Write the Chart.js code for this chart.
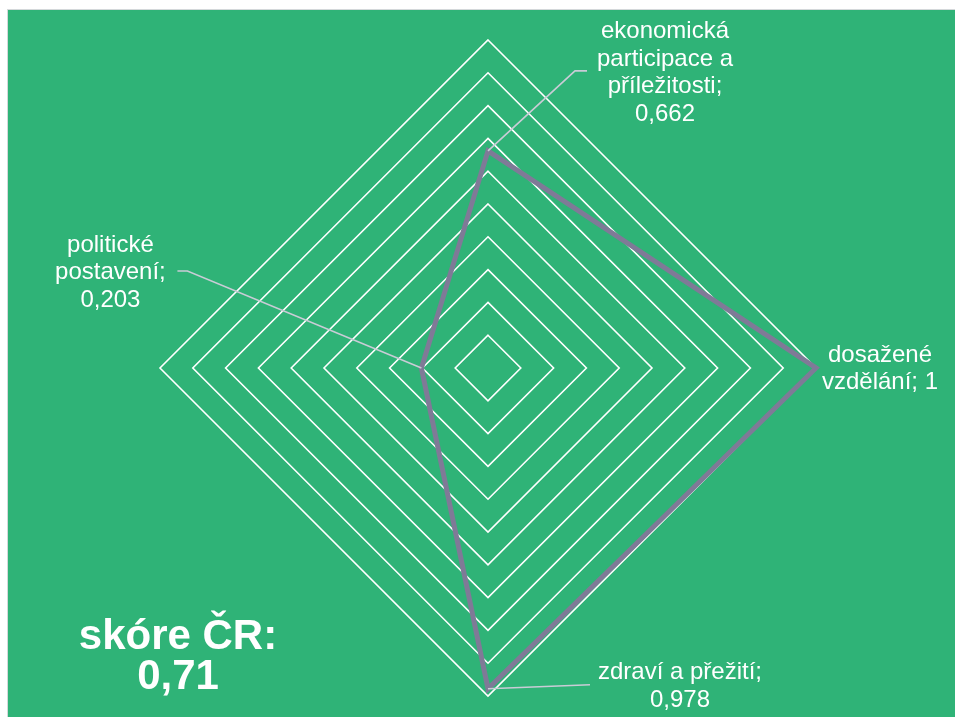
<!DOCTYPE html>
<html>
<head>
<meta charset="utf-8">
<script src="https://cdn.jsdelivr.net/npm/chart.js@4"></script>
<style>
    html, body { margin: 0; padding: 0; background: #ffffff; }
    #frame {
        position: absolute; left: 7px; top: 9px; width: 948px; height: 708px;
        background: #2fb377; border-left: 1px solid #d4d8da; border-top: 1px solid #d4d8da;
    }
    #score {
        position: absolute; left: 40px; top: 605px; width: 260px; text-align: center;
        font-family: "Liberation Sans", Arial, sans-serif; font-weight: bold;
        font-size: 42px; line-height: 40px; color: #ffffff;
    }
</style>
</head>
<body>
<div id="frame">
    <canvas id="gap-chart"></canvas>
    <div id="score">skóre ČR:<br>0,71</div>
</div>
<script>
// ============================================================================
// DATA
// ============================================================================

const categories = ['ekonomická participace a příležitosti', 'dosažené vzdělání', 'zdraví a přežití', 'politické postavení'];
const scores = [0.662, 1, 0.978, 0.203];
const labelLines = [
    ['ekonomická', 'participace a', 'příležitosti;', '0,662'],
    ['dosažené', 'vzdělání; 1'],
    ['zdraví a přežití;', '0,978'],
    ['politické', 'postavení;', '0,203']
];

// Label placement relative to the data point (text centre, first line y, leader elbow/end)
const labelLayout = [
    { dx: 177, dy: -119, leader: [[87, -80], [99, -80]] },
    { dx: 64, dy: -13, leader: null },
    { dx: 192, dy: -16, leader: [[102, -4]] },
    { dx: -311, dy: -123, leader: [[-234, -97], [-244, -97]] }
];

// ============================================================================
// LABEL PLUGIN
// ============================================================================

const calloutPlugin = {
    id: 'callouts',
    afterDatasetsDraw(chart) {
        const ctx = chart.ctx;
        const scale = chart.scales.r;
        ctx.save();
        scores.forEach((v, i) => {
            const p = scale.getPointPosition(i, scale.getDistanceFromCenterForValue(v));
            const lay = labelLayout[i];

            if (lay.leader) {
                ctx.strokeStyle = '#c9ccd6';
                ctx.lineWidth = 1.6;
                ctx.beginPath();
                ctx.moveTo(p.x, p.y);
                lay.leader.forEach(pt => ctx.lineTo(p.x + pt[0], p.y + pt[1]));
                ctx.stroke();
            }

            ctx.fillStyle = '#ffffff';
            ctx.font = '24px "Liberation Sans", Arial, sans-serif';
            ctx.textAlign = 'center';
            ctx.textBaseline = 'middle';
            labelLines[i].forEach((line, k) => {
                ctx.fillText(line, p.x + lay.dx, p.y + lay.dy + k * 27.5);
            });
        });
        ctx.restore();
    }
};

// ============================================================================
// CHART
// ============================================================================

const gapChart = new Chart(document.getElementById('gap-chart').getContext('2d'), {
    type: 'radar',
    data: {
        labels: categories,
        datasets: [{
            label: 'ČR',
            data: scores,
            borderColor: '#7f7a97',
            borderWidth: 5,
            borderJoinStyle: 'miter',
            fill: false,
            pointRadius: 0,
            tension: 0
        }]
    },
    options: {
        responsive: true,
        maintainAspectRatio: false,
        animation: false,
        layout: { padding: { left: 152, right: 140, top: 30, bottom: 22 } },
        scales: {
            r: {
                min: 0,
                max: 1,
                ticks: { stepSize: 0.1, display: false },
                grid: { color: '#ffffff', lineWidth: 1.6 },
                angleLines: { display: false },
                pointLabels: { display: false }
            }
        },
        plugins: {
            legend: { display: false },
            tooltip: { enabled: false }
        }
    },
    plugins: [calloutPlugin]
});
</script>
</body>
</html>
